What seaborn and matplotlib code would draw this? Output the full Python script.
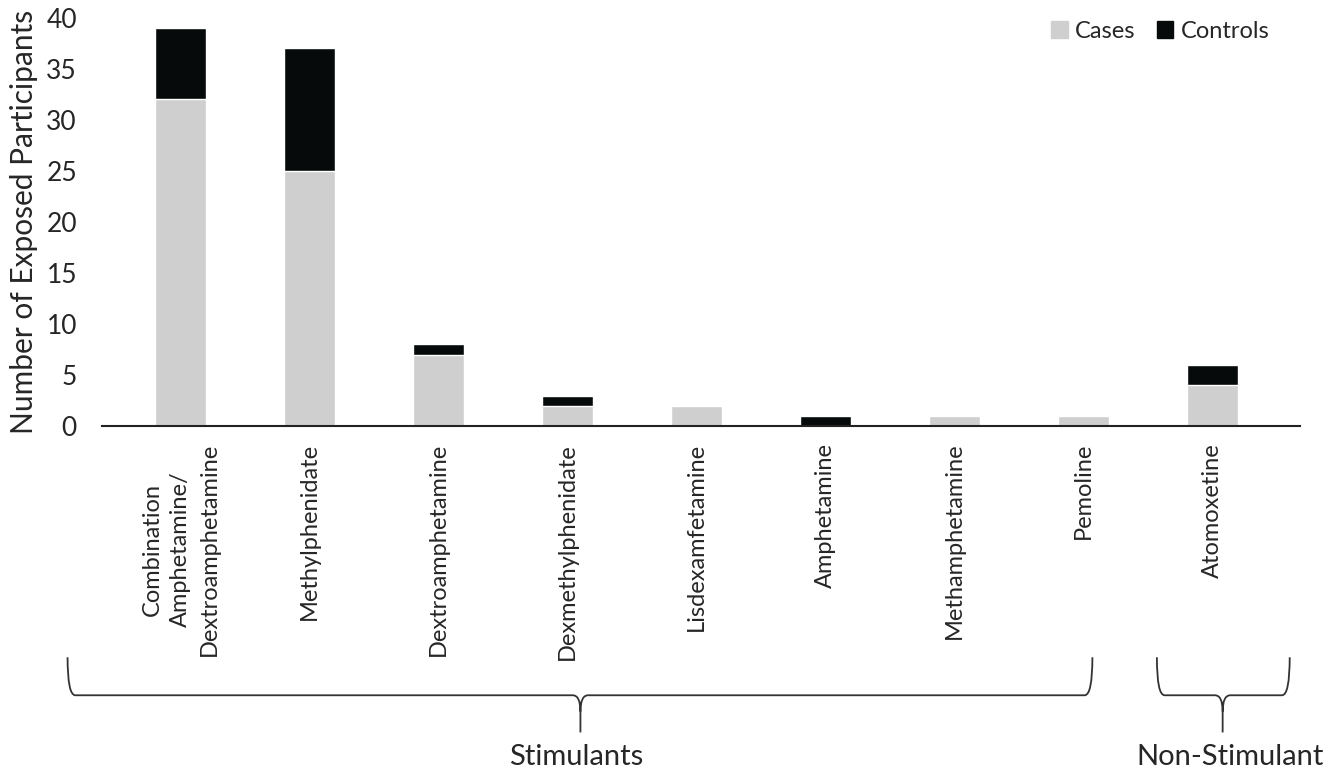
import numpy as np
import pandas as pd
import seaborn as sns
import matplotlib.pyplot as plt
from matplotlib.path import Path
from matplotlib.patches import PathPatch, Patch

# Data
drugs = ["Combination\nAmphetamine/\nDextroamphetamine", "Methylphenidate",
         "Dextroamphetamine", "Dexmethylphenidate", "Lisdexamfetamine",
         "Amphetamine", "Methamphetamine", "Pemoline", "Atomoxetine"]
cases = [32, 25, 7, 2, 2, 0, 1, 1, 4]
controls = [7, 12, 1, 1, 0, 1, 0, 0, 2]

df = pd.DataFrame({"Drug": drugs, "Cases": cases, "Controls": controls})
df["Total"] = df["Cases"] + df["Controls"]

sns.set_theme(style="white")
plt.rcParams["font.family"] = ["Lato", "DejaVu Sans"]

case_color = "#d0cfd0"
control_color = "#060a0b"
text_color = "#262626"

fig = plt.figure(figsize=(13.35, 7.72), dpi=100)
ax = fig.add_axes([0.0764, 0.448, 0.8974, 0.529])

# stacked bars: totals in black, cases drawn over them in grey
sns.barplot(data=df, x="Drug", y="Total", color=control_color, width=0.4,
            saturation=1, ax=ax)
sns.barplot(data=df, x="Drug", y="Cases", color=case_color, width=0.4,
            saturation=1, ax=ax)

ax.set_ylim(0, 40)
ax.set_xlim(-0.61, 8.68)
ax.set_yticks(range(0, 41, 5))
ax.tick_params(axis="y", labelsize=19, colors=text_color, pad=18, length=0)
ax.tick_params(axis="x", labelsize=17, colors=text_color, length=0, pad=12)
plt.setp(ax.get_xticklabels(), rotation=90, linespacing=1.45)
ax.set_xlabel("")
ax.set_ylabel("Number of Exposed Participants", fontsize=21.5, color=text_color)
ax.yaxis.set_label_coords(-0.053, 0.5)
for s in ["top", "right", "left"]:
    ax.spines[s].set_visible(False)
ax.spines["bottom"].set_color("#222222")
ax.spines["bottom"].set_linewidth(1.5)

handles = [Patch(color=case_color, label="Cases"), Patch(color=control_color, label="Controls")]
ax.legend(handles=handles, loc="upper right", ncol=2, frameon=False, fontsize=17,
          handlelength=0.7, handleheight=0.7, handletextpad=0.3, columnspacing=0.9,
          bbox_to_anchor=(0.992, 1.045), labelcolor=text_color)


def brace(x0, x1, xm, y_top, y_line, y_tip):
    tr = ax.get_xaxis_transform()
    c = 0.06
    ym = y_line - 0.04
    verts = [(x0, y_top), (x0, y_line), (x0 + c, y_line),
             (xm - c, y_line), (xm, y_line), (xm, ym), (xm, y_tip),
             (xm, ym), (xm, y_line), (xm + c, y_line),
             (x1 - c, y_line), (x1, y_line), (x1, y_top)]
    codes = [Path.MOVETO, Path.CURVE3, Path.CURVE3,
             Path.LINETO, Path.CURVE3, Path.CURVE3, Path.LINETO,
             Path.MOVETO, Path.CURVE3, Path.CURVE3,
             Path.LINETO, Path.CURVE3, Path.CURVE3]
    patch = PathPatch(Path(verts, codes), facecolor="none", edgecolor="#333333",
                      lw=1.3, transform=tr, clip_on=False)
    ax.add_patch(patch)


brace(-0.877, 7.07, 3.1, -0.566, -0.659, -0.75)
brace(7.57, 8.6, 8.08, -0.566, -0.659, -0.75)
tr = ax.get_xaxis_transform()
ax.text(3.07, -0.81, "Stimulants", transform=tr, ha="center", va="center",
        fontsize=21, color=text_color)
ax.text(8.14, -0.81, "Non-Stimulant", transform=tr, ha="center", va="center",
        fontsize=21, color=text_color)

fig.savefig("out.png", dpi=100)
